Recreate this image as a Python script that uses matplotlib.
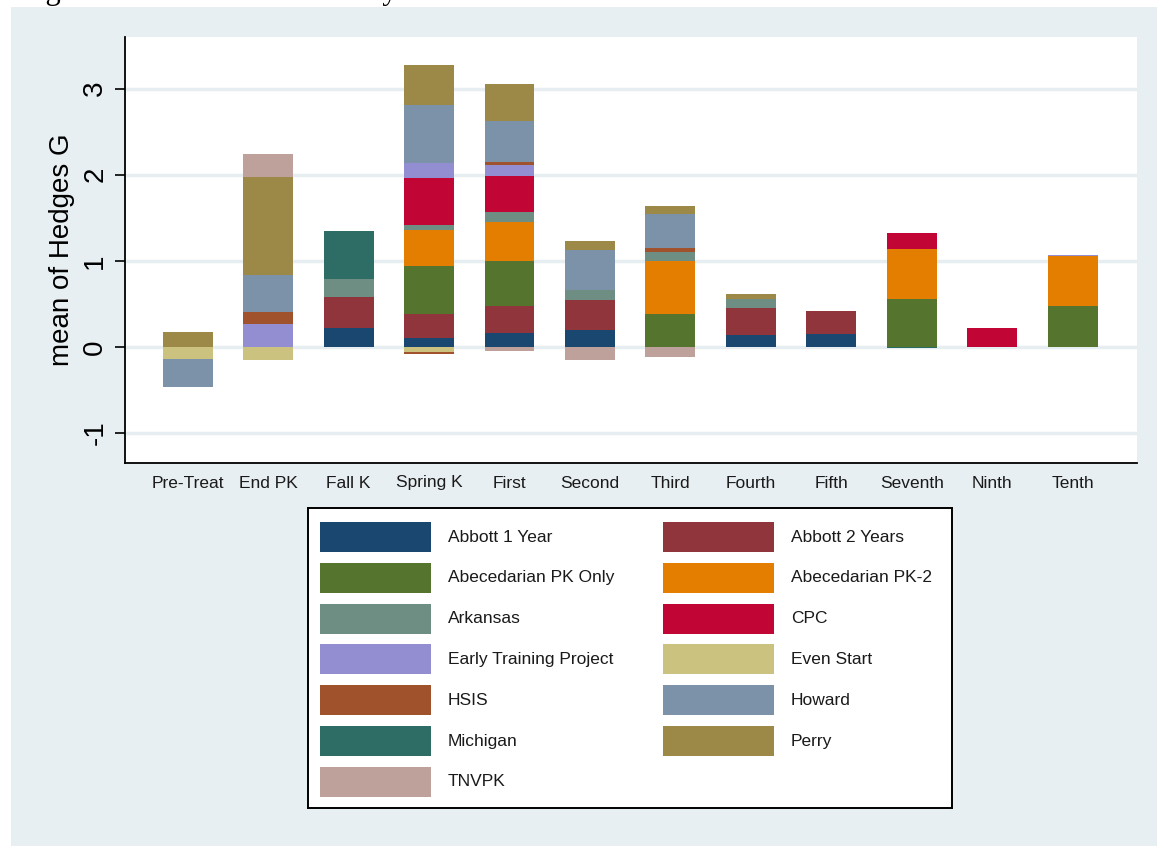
import matplotlib
matplotlib.use("Agg")
from matplotlib import pyplot as plt
from matplotlib.patches import Rectangle
import numpy as np

plt.rcParams['font.family'] = ['Liberation Sans', 'DejaVu Sans']

# grades (x categories)
grades = ["Pre-Treat", "End PK", "Fall K", "Spring K", "First", "Second",
          "Third", "Fourth", "Fifth", "Seventh", "Ninth", "Tenth"]

# mean Hedges G per study per grade (0 = no estimate)
abbott1 = [0, 0, 0.22, 0.10, 0.16, 0.19, 0, 0.14, 0.15, 0, 0, 0]
abbott2 = [0, 0, 0.36, 0.28, 0.32, 0.35, 0, 0.31, 0.27, 0, 0, 0]
abc_pk = [0, 0, 0, 0.56, 0.52, 0, 0.38, 0, 0, 0.56, 0, 0.48]
abc_pk2 = [0, 0, 0, 0.42, 0.45, 0, 0.62, 0, 0, 0.58, 0, 0.57]
arkansas = [0, 0, 0.21, 0.06, 0.12, 0.12, 0.10, 0.11, 0, 0, 0, 0]
cpc = [0, 0, 0, 0.54, 0.42, 0, 0, 0, 0, 0.18, 0.22, 0]
etp = [0, 0.27, 0, 0.18, 0.12, 0, 0, 0, 0, 0, 0, 0.02]
even_start = [-0.14, -0.15, 0, -0.06, 0, 0, 0, 0, 0, 0, 0, 0]
hsis = [0, 0.13, 0, -0.02, 0.04, 0, 0.05, 0, 0, 0, 0, 0]
howard = [-0.33, 0.44, 0, 0.67, 0.47, 0.46, 0.39, 0, 0, 0, 0, 0]
michigan = [0, 0, 0.56, 0, 0, 0, 0, 0, 0, -0.015, 0, 0]
perry = [0.175, 1.13, 0, 0.46, 0.43, 0.11, 0.10, 0.05, 0, 0, 0, 0]
tnvpk = [0, 0.265, 0, 0, -0.054, -0.15, -0.12, 0, 0, 0, 0, 0]

studies = ["Abbott 1 Year", "Abbott 2 Years", "Abecedarian PK Only", "Abecedarian PK-2",
           "Arkansas", "CPC", "Early Training Project", "Even Start", "HSIS",
           "Howard", "Michigan", "Perry", "TNVPK"]
series = [abbott1, abbott2, abc_pk, abc_pk2, arkansas, cpc, etp, even_start,
          hsis, howard, michigan, perry, tnvpk]
# stata s2color palette
colors = ["#1a476f", "#90353b", "#55752f", "#e37e00", "#6e8e84", "#c10534",
          "#938dd2", "#cac27e", "#a0522d", "#7b92a8", "#2d6d66", "#9c8847",
          "#bfa19c"]

W, H = 1157, 846
bg = "#e8eff2"
fig = plt.figure(figsize=(W / 100, H / 100), dpi=100)
fig.patch.set_facecolor("white")

# light graph region (starts a few px in from top/left)
fig.patches.append(Rectangle((11 / W, 0), 1, 1 - 7 / H, transform=fig.transFigure,
                             facecolor=bg, edgecolor="none", zorder=-10))

# caption of the page, cut off by the top edge as in the source
fig.text(20 / W, 1 + 1.5 / H, "Figure 4: Distribution of Study Effect Sizes Across Time",
         family=["Liberation Serif", "DejaVu Serif"], fontsize=22, va="baseline", ha="left")

ax = fig.add_axes([125 / W, 1 - 463 / H, (1137 - 125) / W, (463 - 37) / H])
ax.set_facecolor("white")

x = np.arange(len(grades))
pos_base = np.zeros(len(grades))
neg_base = np.zeros(len(grades))
for name, vals, col in zip(studies, series, colors):
    v = np.array(vals, dtype=float)
    bottom = np.where(v >= 0, pos_base, neg_base)
    ax.bar(x, v, bottom=bottom, width=0.62, color=col, edgecolor="none", zorder=3)
    pos_base = pos_base + np.where(v > 0, v, 0)
    neg_base = neg_base + np.where(v < 0, v, 0)

ax.set_xlim(-0.78, 11.8)
ax.set_ylim(-1.35, 3.6)
ax.set_yticks([-1, 0, 1, 2, 3])
ax.set_yticklabels(["-1", "0", "1", "2", "3"], rotation=90, va="center", fontsize=20)
ax.yaxis.grid(True, color="#e6eef1", linewidth=2.5, zorder=0)
ax.set_axisbelow(True)
ax.set_xticks(x)
ax.set_xticklabels(grades, fontsize=12.5, color="#1a1a1a")
ax.tick_params(axis="x", length=0, pad=9)
ax.tick_params(axis="y", length=7, width=1.2, pad=5)
ax.set_ylabel("mean of Hedges G", fontsize=20, labelpad=5)
ax.spines["top"].set_visible(False)
ax.spines["right"].set_visible(False)
ax.spines["left"].set_linewidth(1.3)
ax.spines["bottom"].set_linewidth(1.3)

# legend box drawn by hand, two columns filled row by row
lx0, ly0, lx1, ly1 = 308, 508, 952, 808
lax = fig.add_axes([lx0 / W, 1 - ly1 / H, (lx1 - lx0) / W, (ly1 - ly0) / H])
lax.set_xlim(lx0, lx1)
lax.set_ylim(ly1, ly0)
lax.set_xticks([])
lax.set_yticks([])
lax.set_facecolor("white")
for s in lax.spines.values():
    s.set_linewidth(1.4)
key_x = [320, 663]
for i, (name, col) in enumerate(zip(studies, colors)):
    row, c = divmod(i, 2)
    yc = 537 + row * 40.8
    lax.add_patch(Rectangle((key_x[c], yc - 15), 111, 30, facecolor=col, edgecolor="none"))
    lax.text(key_x[c] + 128, yc, name, fontsize=12.5, va="center", ha="left", color="#1a1a1a")

fig.savefig("out.png", dpi=100, facecolor=fig.get_facecolor())
